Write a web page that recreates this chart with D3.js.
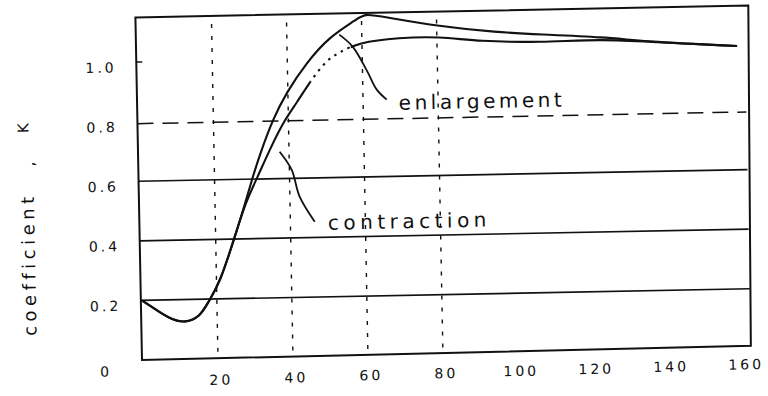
<!DOCTYPE html>
<html><head><meta charset="utf-8">
<script src="https://cdn.jsdelivr.net/npm/d3@7"></script>
<style>html,body{margin:0;padding:0;background:#fff;} svg{display:block;}</style>
</head><body>
<svg id="c" width="768" height="396"></svg>
<script>
// ---- data ----
const xTicks = [20, 40, 60, 80, 100, 120, 140, 160];
const yTicks = [0, 0.2, 0.4, 0.6, 0.8, 1.0];
const yTickLabels = ["0", "0.2", "0.4", "0.6", "0.8", "1.0"];
const gridSolid = [0.2, 0.4, 0.6];
const gridDashed = [0.8];
const gridVertical = [20, 40, 60, 80];

const enlargeX = [0, 4.6, 8, 11.4, 15.4, 17.6, 20.9, 25.1, 28.1, 30.2, 32.4, 35.8, 39.6, 45.1, 51.4, 58.6, 60.8, 65.6, 80.7, 95.9, 107.4, 124.2, 137.5, 160];
const enlargeY = [0.2, 0.16, 0.133, 0.122, 0.141, 0.188, 0.254, 0.407, 0.521, 0.608, 0.688, 0.798, 0.888, 0.987, 1.073, 1.128, 1.148, 1.137, 1.100, 1.077, 1.067, 1.054, 1.034, 1.015];

const contractX = [0, 4.6, 8, 11.4, 15.4, 17.6, 20.9, 25.1, 28.1, 31.5, 35.1, 39, 42.3, 45.8, 50.5, 54, 58.8, 70, 80.7, 91.3, 107.3, 124.2, 137.5, 160];
const contractY = [0.2, 0.16, 0.133, 0.122, 0.141, 0.188, 0.254, 0.407, 0.521, 0.607, 0.704, 0.797, 0.853, 0.920, 0.996, 1.019, 1.051, 1.065, 1.066, 1.047, 1.040, 1.047, 1.034, 1.015];
const contractDottedFrom = 46, contractDottedTo = 57;   // hand-dotted stretch of the contraction curve

const enlargeLeaderX = [54.0, 57.5, 61.3, 63.7, 66.3];
const enlargeLeaderY = [1.079, 1.038, 0.953, 0.892, 0.858];
const contractLeaderX = [37.5, 40.6, 42.6, 46.5];
const contractLeaderY = [0.690, 0.629, 0.538, 0.453];

const seriesNames = ["enlargement", "contraction"];
const yTitle = "coefficient";
const yTitleSymbol = "K";

// ---- drawing ----
const ink = "#111";
const font = "'DejaVu Sans', sans-serif";
const svg = d3.select("#c");
svg.append("rect").attr("width", 768).attr("height", 396).attr("fill", "#fff");

const x = d3.scaleLinear().domain([0, 160]).range([143, 743]);
const y = d3.scaleLinear().domain([0, 1.15]).range([360, 17.3]);
const plotL = 142, plotR = 751, plotT = y(1.15), plotB = y(0);

const g = svg.append("g").attr("transform", "rotate(-1.1,143,360)");

// clip paths for dotted stretch
const defs = svg.append("defs");
defs.append("clipPath").attr("id", "solidA").append("rect")
  .attr("x", 0).attr("y", 0).attr("width", x(contractDottedFrom)).attr("height", 400);
defs.append("clipPath").attr("id", "solidB").append("rect")
  .attr("x", x(contractDottedTo)).attr("y", 0).attr("width", 800).attr("height", 400);
defs.append("clipPath").attr("id", "dotted").append("rect")
  .attr("x", x(contractDottedFrom)).attr("y", 0).attr("width", x(contractDottedTo) - x(contractDottedFrom)).attr("height", 400);

// horizontal grid lines
g.selectAll("line.hs").data(gridSolid).join("line")
  .attr("x1", plotL).attr("x2", plotR).attr("y1", d => y(d)).attr("y2", d => y(d))
  .attr("stroke", ink).attr("stroke-width", 1.7);
g.selectAll("line.hd").data(gridDashed).join("line")
  .attr("x1", plotL).attr("x2", plotR).attr("y1", d => y(d) + 2).attr("y2", d => y(d) + 2)
  .attr("stroke", ink).attr("stroke-width", 1.5).attr("stroke-dasharray", "16,9");
// vertical dotted grid lines
g.selectAll("line.v").data(gridVertical).join("line")
  .attr("x1", d => x(d)).attr("x2", d => x(d)).attr("y1", plotT + 8).attr("y2", plotB)
  .attr("stroke", ink).attr("stroke-width", 1.4).attr("stroke-dasharray", "4,8");

// frame (hand-drawn, slightly uneven)
g.append("path")
  .attr("d", `M${plotL},${plotT} L${plotR + 4},${plotT} L${plotR},${plotB - 2.5} L${plotL},${plotB} Z`)
  .attr("fill", "none").attr("stroke", ink).attr("stroke-width", 2);
// 1.0 tick
g.append("line").attr("x1", plotL).attr("x2", plotL + 6).attr("y1", y(1.0)).attr("y2", y(1.0))
  .attr("stroke", ink).attr("stroke-width", 1.5);

// y tick labels
g.selectAll("text.yt").data(yTicks).join("text")
  .attr("x", (d, i) => i === 0 ? 100 : 91)
  .attr("y", (d, i) => i === 0 ? y(d) + 11 : y(d) + 5)
  .attr("dominant-baseline", "central")
  .attr("font-family", font).attr("font-size", 14).attr("letter-spacing", 3)
  .attr("fill", ink)
  .text((d, i) => yTickLabels[i]);

// x tick labels
g.selectAll("text.xt").data(xTicks).join("text")
  .attr("x", d => x(d) + 3).attr("y", d => plotB + 22 - (x(d) - x(0)) * 0.01)
  .attr("text-anchor", "middle").attr("dominant-baseline", "central")
  .attr("font-family", font).attr("font-size", 14).attr("letter-spacing", 3)
  .attr("fill", ink)
  .text(d => d);

// curves
const line = d3.line().x(d => x(d[0])).y(d => y(d[1])).curve(d3.curveBasis);
const zip = (a, b) => a.map((v, i) => [v, b[i]]);
g.append("path").attr("d", line(zip(enlargeX, enlargeY)))
  .attr("fill", "none").attr("stroke", ink).attr("stroke-width", 2.1);
const cPath = line(zip(contractX, contractY));
["solidA", "solidB"].forEach(id => {
  g.append("path").attr("d", cPath).attr("clip-path", `url(#${id})`)
    .attr("fill", "none").attr("stroke", ink).attr("stroke-width", 2.1);
});
g.append("path").attr("d", cPath).attr("clip-path", "url(#dotted)")
  .attr("fill", "none").attr("stroke", ink).attr("stroke-width", 2.1)
  .attr("stroke-dasharray", "2.5,5");

const leader = d3.line().x(d => x(d[0])).y(d => y(d[1])).curve(d3.curveCatmullRom);
g.append("path").attr("d", leader(zip(enlargeLeaderX, enlargeLeaderY)))
  .attr("fill", "none").attr("stroke", ink).attr("stroke-width", 1.8);
g.append("path").attr("d", leader(zip(contractLeaderX, contractLeaderY)))
  .attr("fill", "none").attr("stroke", ink).attr("stroke-width", 1.8);

// series labels
g.append("text").attr("x", x(69.5)).attr("y", y(0.83) + 2)
  .attr("font-family", font).attr("font-size", 20).attr("letter-spacing", 3.5)
  .attr("fill", ink).text(seriesNames[0]);
g.append("text").attr("x", x(50)).attr("y", y(0.432) + 2)
  .attr("font-family", font).attr("font-size", 20).attr("letter-spacing", 4.5)
  .attr("fill", ink).text(seriesNames[1]);

// y axis title
g.append("text").attr("transform", "translate(37,262) rotate(-90)")
  .attr("text-anchor", "middle")
  .attr("font-family", font).attr("font-size", 18).attr("letter-spacing", 4.5)
  .attr("fill", ink).text(yTitle);
g.append("text").attr("transform", "translate(38,162) rotate(-90)")
  .attr("text-anchor", "middle")
  .attr("font-family", font).attr("font-size", 16)
  .attr("fill", ink).text(",");
g.append("text").attr("transform", "translate(33,126) rotate(-90)")
  .attr("text-anchor", "middle")
  .attr("font-family", font).attr("font-size", 15)
  .attr("fill", ink).text(yTitleSymbol);
</script>
</body></html>
